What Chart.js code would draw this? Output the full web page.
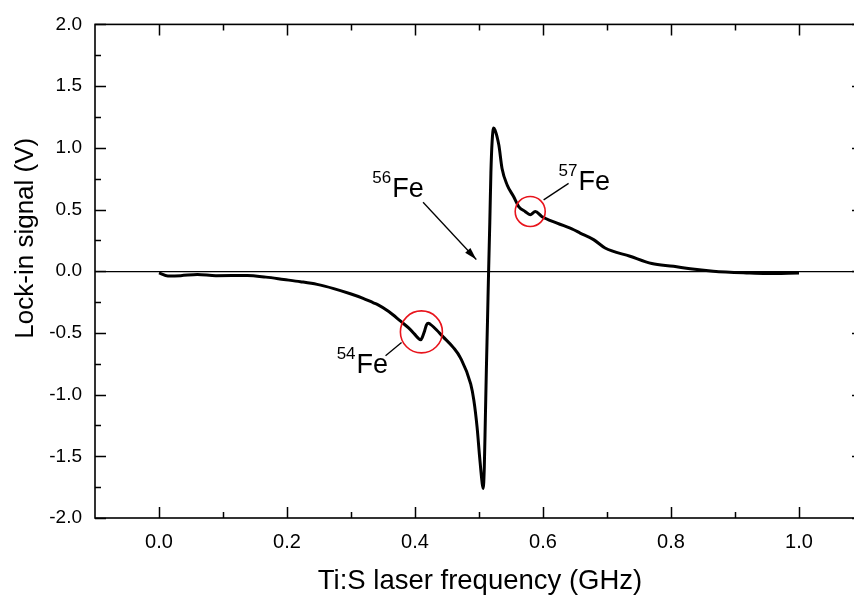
<!DOCTYPE html>
<html>
<head>
<meta charset="utf-8">
<script src="https://cdn.jsdelivr.net/npm/chart.js@4/dist/chart.umd.min.js"></script>
<style>
html,body{margin:0;padding:0;background:#fff;overflow:hidden;}
#wrap{width:854px;height:595px;overflow:hidden;position:relative;}
canvas{display:block;}
</style>
</head>
<body>
<div id="wrap"><canvas id="c" width="870" height="595"></canvas></div>
<script>
// ---- data ----
const freqGHz = [0.000,0.014,0.034,0.060,0.089,0.138,0.167,0.195,0.221,0.247,0.273,0.299,0.318,0.335,0.341,0.359,0.377,0.390,0.399,0.4054,0.409,0.4117,0.415,0.4179,0.421,0.4241,0.429,0.444,0.460,0.471,0.487,0.492,0.497,0.501,0.505,0.5066,0.5083,0.5099,0.5115,0.5133,0.5150,0.5169,0.5186,0.5205,0.5228,0.525,0.531,0.536,0.544,0.554,0.562,0.572,0.580,0.588,0.598,0.622,0.648,0.658,0.679,0.697,0.736,0.770,0.804,0.830,0.866,0.918,0.949,1.000];
const signalV = [-0.014,-0.038,-0.036,-0.027,-0.036,-0.035,-0.048,-0.067,-0.085,-0.107,-0.141,-0.183,-0.218,-0.256,-0.269,-0.327,-0.403,-0.460,-0.508,-0.545,-0.556,-0.532,-0.484,-0.435,-0.422,-0.431,-0.452,-0.532,-0.619,-0.702,-0.914,-1.048,-1.264,-1.506,-1.720,-1.760,-1.586,-1.200,-0.800,-0.400,0.000,0.400,0.800,1.050,1.161,1.145,1.022,0.833,0.699,0.605,0.524,0.484,0.457,0.484,0.444,0.390,0.336,0.309,0.256,0.188,0.121,0.062,0.040,0.019,0.000,-0.014,-0.019,-0.014];
const xTickLabels = [0.0,0.2,0.4,0.6,0.8,1.0];
const xMinorTicks = [0.1,0.3,0.5,0.7,0.9];
const yTickLabels = [-2.0,-1.5,-1.0,-0.5,0.0,0.5,1.0,1.5,2.0];
const yMinorTicks = [-1.75,-1.25,-0.75,-0.25,0.25,0.75,1.25,1.75];
const xTitle = "Ti:S laser frequency (GHz)";
const yTitle = "Lock-in signal (V)";
// isotope markers: circle centre (data), leader line (data), label anchor (data)
const isotopeLabels = ["54", "56", "57"];
const circleCentres = [[0.410,-0.492],[0.580,0.484]];
const circleRadiiPx = [21,15];
const labelAnchors = [[0.3087,-0.828],[0.3644,0.605],[0.6554,0.659]];
const leader54 = [[0.379,-0.578],[0.354,-0.685]];
const leader57 = [[0.601,0.578],[0.640,0.712]];
const arrow56 = [[0.4126,0.559],[0.4958,0.095]];

const FONT = "'Liberation Sans', Arial, sans-serif";
const points = freqGHz.map((x,i)=>({x:x,y:signalV[i]}));

const framePlugin = {
  id:'frame',
  afterDraw(chart){
    const ctx = chart.ctx, a = chart.chartArea;
    const xs = chart.scales.x, ys = chart.scales.y;
    ctx.save();
    ctx.strokeStyle = '#000';
    ctx.lineWidth = 1.6;
    ctx.strokeRect(a.left, a.top, a.right-a.left, a.bottom-a.top);
    ctx.beginPath();
    const tick = (vals, len) => {
      vals.forEach(v=>{
        const px = Math.round(xs.getPixelForValue(v))+0.5;
        ctx.moveTo(px, a.bottom); ctx.lineTo(px, a.bottom-len);
        ctx.moveTo(px, a.top); ctx.lineTo(px, a.top+len);
      });
    };
    const tickY = (vals, len) => {
      vals.forEach(v=>{
        const py = Math.round(ys.getPixelForValue(v))+0.5;
        ctx.moveTo(a.left, py); ctx.lineTo(a.left+len, py);
        ctx.moveTo(a.right, py); ctx.lineTo(a.right-len, py);
      });
    };
    ctx.lineWidth = 1.5;
    tick(xTickLabels, 11); tick(xMinorTicks, 6);
    tickY(yTickLabels, 11); tickY(yMinorTicks, 6);
    ctx.stroke();

    // axis titles
    ctx.fillStyle = '#000';
    ctx.font = '27.5px ' + FONT;
    ctx.textAlign = 'center';
    ctx.textBaseline = 'alphabetic';
    ctx.fillText(xTitle, (a.left+a.right)/2+1, 589);
    ctx.save();
    ctx.translate(33, (a.top+a.bottom)/2 - 33);
    ctx.rotate(-Math.PI/2);
    ctx.font = '26px ' + FONT;
    ctx.fillText(yTitle, 0, 0);
    ctx.restore();

    // annotations
    ctx.strokeStyle = '#e8141c';
    ctx.lineWidth = 1.6;
    circleCentres.forEach((c,i)=>{
      ctx.beginPath();
      ctx.arc(xs.getPixelForValue(c[0]), ys.getPixelForValue(c[1]), circleRadiiPx[i], 0, Math.PI*2);
      ctx.stroke();
    });
    ctx.strokeStyle = '#000';
    ctx.lineWidth = 1.3;
    [leader54, leader57, arrow56].forEach(l=>{
      ctx.beginPath();
      ctx.moveTo(xs.getPixelForValue(l[0][0]), ys.getPixelForValue(l[0][1]));
      ctx.lineTo(xs.getPixelForValue(l[1][0]), ys.getPixelForValue(l[1][1]));
      ctx.stroke();
    });
    // arrow head
    const x1 = xs.getPixelForValue(arrow56[0][0]), y1 = ys.getPixelForValue(arrow56[0][1]);
    const x2 = xs.getPixelForValue(arrow56[1][0]), y2 = ys.getPixelForValue(arrow56[1][1]);
    const ang = Math.atan2(y2-y1, x2-x1), L = 13, W = 0.28;
    ctx.fillStyle = '#000';
    ctx.beginPath();
    ctx.moveTo(x2, y2);
    ctx.lineTo(x2 - L*Math.cos(ang-W), y2 - L*Math.sin(ang-W));
    ctx.lineTo(x2 - L*Math.cos(ang+W), y2 - L*Math.sin(ang+W));
    ctx.closePath();
    ctx.fill();

    // isotope labels
    labelAnchors.forEach((p,i)=>{
      const px = xs.getPixelForValue(p[0]), py = ys.getPixelForValue(p[1]);
      ctx.textBaseline = 'alphabetic';
      ctx.textAlign = 'left';
      ctx.font = '27px ' + FONT;
      ctx.fillText('Fe', px, py);
      ctx.textAlign = 'right';
      ctx.font = '17px ' + FONT;
      ctx.fillText(isotopeLabels[i], px-1, py-14);
    });
    ctx.restore();
  }
};

new Chart(document.getElementById('c'), {
  type:'scatter',
  data:{datasets:[{
    data: points,
    showLine:true,
    borderColor:'#000',
    borderWidth:3,
    pointRadius:0,
    cubicInterpolationMode:'monotone',
    fill:false
  }]},
  options:{
    responsive:false,
    animation:false,
    events:[],
    layout:{padding:{top:22,right:7,left:0,bottom:0}},
    plugins:{legend:{display:false},tooltip:{enabled:false},title:{display:false}},
    scales:{
      x:{
        type:'linear', min:-0.1, max:1.1,
        afterBuildTicks(s){ s.ticks = xTickLabels.map(v=>({value:v})); },
        afterFit(s){ s.height = 77; },
        grid:{display:false, drawTicks:false},
        border:{display:false},
        ticks:{color:'#000', font:{family:FONT, size:20}, padding:12, maxRotation:0,
               callback:(v)=>Number(v).toFixed(1)}
      },
      y:{
        type:'linear', min:-2, max:2,
        afterBuildTicks(s){ s.ticks = yTickLabels.map(v=>({value:v})); },
        afterFit(s){ s.width = 95; },
        grid:{drawTicks:false, color:(c)=> (c.tick && Math.abs(c.tick.value)<1e-9) ? '#000' : 'rgba(0,0,0,0)', lineWidth:1.2},
        border:{display:false},
        ticks:{color:'#000', font:{family:FONT, size:19}, padding:13,
               callback:(v)=>Number(v).toFixed(1)}
      }
    }
  },
  plugins:[framePlugin]
});
</script>
</body>
</html>
